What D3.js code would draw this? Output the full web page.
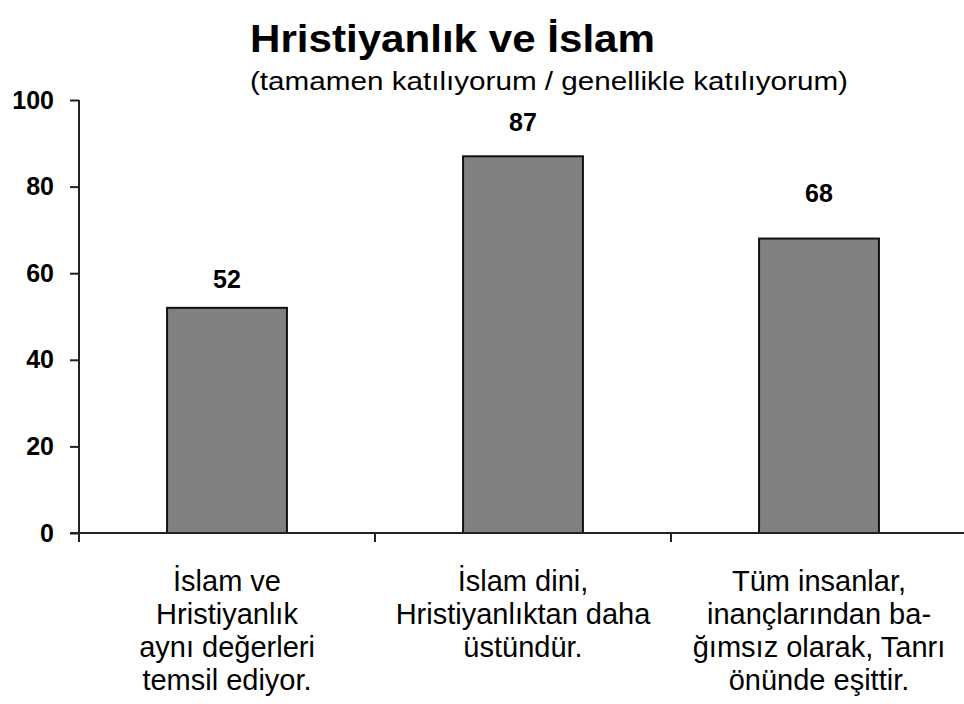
<!DOCTYPE html>
<html>
<head>
<meta charset="utf-8">
<script src="https://cdn.jsdelivr.net/npm/d3@7"></script>
<style>
  body { margin: 0; background: #fff; }
  text { font-family: "Liberation Sans", Arial, sans-serif; }
</style>
</head>
<body>
<div></div>
<script>
var categories = [
    ["İslam ve", "Hristiyanlık", "aynı değerleri", "temsil ediyor."],
    ["İslam dini,", "Hristiyanlıktan daha", "üstündür."],
    ["Tüm insanlar,", "inançlarından ba-", "ğımsız olarak, Tanrı", "önünde eşittir."]
];
var values = [52, 87, 68];
var yTicks = [0, 20, 40, 60, 80, 100];

var width = 964, height = 704;
var marginLeft = 79, plotTop = 100, plotBottom = 533, plotRight = 967;
var labelGap = [20, 25, 37];  // value labels sit a bit unevenly above the bars

var svg = d3.select("div").append("svg")
    .attr("width", width)
    .attr("height", height);

var x = d3.scaleBand()
    .domain(d3.range(values.length))
    .range([marginLeft, plotRight])
    .paddingInner(0.595)
    .paddingOuter(0.2975);

var y = d3.scaleLinear()
    .domain([0, 100])
    .range([plotBottom, plotTop]);

// title
svg.append("text")
    .attr("x", 250).attr("y", 52)
    .attr("font-size", 39).attr("font-weight", "bold")
    .attr("textLength", 405).attr("lengthAdjust", "spacingAndGlyphs")
    .text("Hristiyanlık ve İslam");

svg.append("text")
    .attr("x", 250).attr("y", 90)
    .attr("font-size", 25)
    .attr("textLength", 598).attr("lengthAdjust", "spacingAndGlyphs")
    .text("(tamamen katılıyorum / genellikle katılıyorum)");

// bars
svg.selectAll("rect.bar")
    .data(values)
    .enter().append("rect")
    .attr("class", "bar")
    .attr("x", function(d, i) { return x(i); })
    .attr("y", function(d) { return y(d); })
    .attr("width", x.bandwidth())
    .attr("height", function(d) { return y(0) - y(d); })
    .attr("fill", "#808080")
    .attr("stroke", "#111")
    .attr("stroke-width", 2);

svg.selectAll("text.value")
    .data(values)
    .enter().append("text")
    .attr("class", "value")
    .attr("x", function(d, i) { return x(i) + x.bandwidth() / 2; })
    .attr("y", function(d, i) { return y(d) - labelGap[i]; })
    .attr("text-anchor", "middle")
    .attr("font-size", 25).attr("font-weight", "bold")
    .text(function(d) { return d; });

// y axis
var yAxis = svg.append("g")
    .attr("transform", "translate(" + marginLeft + ",0)")
    .call(d3.axisLeft(y).tickValues(yTicks).tickSize(9).tickPadding(16));
yAxis.select(".domain").attr("d", "M0," + plotTop + "V" + plotBottom)
    .attr("stroke", "#222").attr("stroke-width", 2);
yAxis.selectAll(".tick line").attr("stroke", "#222").attr("stroke-width", 2);
yAxis.selectAll(".tick text")
    .attr("font-size", 25).attr("font-weight", "bold")
    .attr("font-family", "Liberation Sans, Arial, sans-serif")
    .attr("fill", "#000");

// x axis (ticks at category boundaries)
svg.append("line")
    .attr("x1", marginLeft - 9).attr("x2", plotRight)
    .attr("y1", plotBottom).attr("y2", plotBottom)
    .attr("stroke", "#222").attr("stroke-width", 2);

svg.selectAll("line.xtick")
    .data(d3.range(values.length + 1))
    .enter().append("line")
    .attr("class", "xtick")
    .attr("x1", function(i) { return marginLeft + i * x.step(); })
    .attr("x2", function(i) { return marginLeft + i * x.step(); })
    .attr("y1", plotBottom).attr("y2", plotBottom + 9)
    .attr("stroke", "#222").attr("stroke-width", 2);

// category labels
categories.forEach(function(lines, i) {
    var t = svg.append("text")
        .attr("text-anchor", "middle")
        .attr("font-size", 29);
    lines.forEach(function(line, j) {
        t.append("tspan")
            .attr("x", x(i) + x.bandwidth() / 2)
            .attr("y", 591 + j * 33)
            .text(line);
    });
});
</script>
</body>
</html>
